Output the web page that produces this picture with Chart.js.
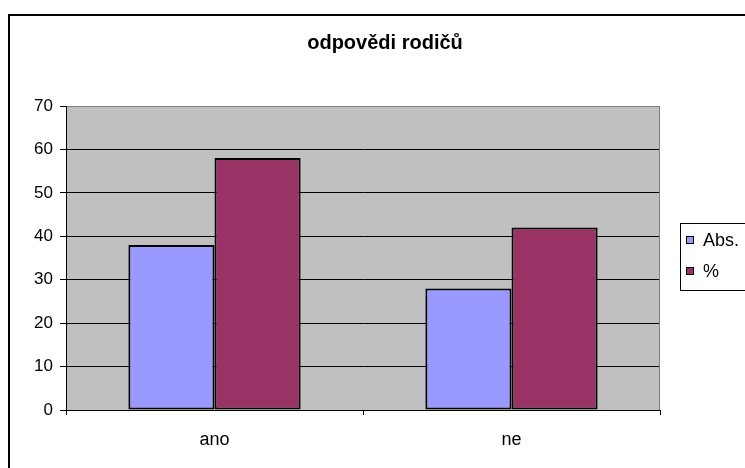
<!DOCTYPE html>
<html><head><meta charset="utf-8">
<script src="https://cdn.jsdelivr.net/npm/chart.js@4.4.1/dist/chart.umd.min.js"></script>
<style>html,body{margin:0;padding:0;background:#fff;overflow:hidden}canvas{display:block}</style>
</head><body>
<canvas id="c" width="745" height="468"></canvas>
<script>
const titleText = 'odpovědi rodičů';
const categories = ['ano', 'ne'];
const seriesNames = ['Abs.', '%'];
const absValues = [38, 28];
const pctValues = [58, 42];
const yMin = 0, yMax = 70, yStep = 10;

const FONT = "'Liberation Sans', Arial, sans-serif";

const decor = {
  id: 'decor',
  beforeDraw(chart) {
    const {ctx, chartArea: a} = chart;
    ctx.save();
    ctx.fillStyle = '#fff';
    ctx.fillRect(0, 0, chart.width, chart.height);
    ctx.fillStyle = '#C0C0C0';
    ctx.fillRect(a.left, a.top, a.right - a.left, a.bottom - a.top);
    ctx.restore();
  },
  beforeDatasetsDraw(chart) {
    const {ctx, chartArea: a} = chart;
    ctx.save();
    ctx.strokeStyle = '#808080';
    ctx.lineWidth = 1;
    ctx.beginPath();
    ctx.moveTo(a.right - 0.5, a.top);
    ctx.lineTo(a.right - 0.5, a.bottom);
    ctx.stroke();
    ctx.restore();
  },
  afterDraw(chart) {
    const {ctx} = chart;
    ctx.save();
    ctx.strokeStyle = '#000';
    ctx.lineWidth = 2;
    ctx.strokeRect(9, 15, 760, 470);
    ctx.fillStyle = '#000';
    ctx.font = "bold 20px " + FONT;
    ctx.textAlign = 'center';
    ctx.textBaseline = 'alphabetic';
    ctx.fillText(titleText, 385, 49);
    ctx.lineWidth = 1;
    ctx.strokeStyle = '#000';
    ctx.strokeRect(680.5, 223.5, 100, 67);
    ctx.font = "18px " + FONT;
    ctx.textAlign = 'left';
    const ys = [240, 271];
    chart.data.datasets.forEach((ds, i) => {
      const y = ys[i];
      ctx.fillStyle = ds.backgroundColor;
      ctx.fillRect(686, y - 4, 8, 8);
      ctx.strokeRect(686.5, y - 3.5, 7, 7);
      ctx.fillStyle = '#000';
      ctx.textBaseline = 'middle';
      ctx.fillText(ds.label, 703, y + 1);
    });
    ctx.restore();
  }
};

new Chart(document.getElementById('c'), {
  type: 'bar',
  data: {
    labels: categories,
    datasets: [
      {label: seriesNames[0], data: absValues, backgroundColor: '#9999FF', borderColor: '#000', borderWidth: 2, borderSkipped: false},
      {label: seriesNames[1], data: pctValues, backgroundColor: '#993366', borderColor: '#000', borderWidth: 2, borderSkipped: false}
    ]
  },
  options: {
    responsive: false,
    animation: false,
    devicePixelRatio: 1,
    layout: {padding: {top: 106, right: 85, left: 0, bottom: 0}},
    datasets: {bar: {categoryPercentage: 0.58, barPercentage: 1.0}},
    plugins: {legend: {display: false}, title: {display: false}, tooltip: {enabled: false}},
    scales: {
      x: {
        afterFit(s) { s.height = 58; },
        grid: {offset: true, drawOnChartArea: false, drawTicks: true, tickLength: 5, color: '#000'},
        border: {color: '#000', width: 1},
        ticks: {color: '#000', font: {family: FONT, size: 18}, padding: 14}
      },
      y: {
        min: yMin, max: yMax,
        afterFit(s) { s.width = 66; },
        grid: {
          color: (c) => (c.tick && c.tick.value === yMax) ? '#808080' : '#000',
          tickColor: '#000', tickLength: 6, drawTicks: true
        },
        border: {color: '#000', width: 1},
        ticks: {stepSize: yStep, color: '#000', font: {family: FONT, size: 17}, padding: 7}
      }
    }
  },
  plugins: [decor]
});
</script>
</body></html>
